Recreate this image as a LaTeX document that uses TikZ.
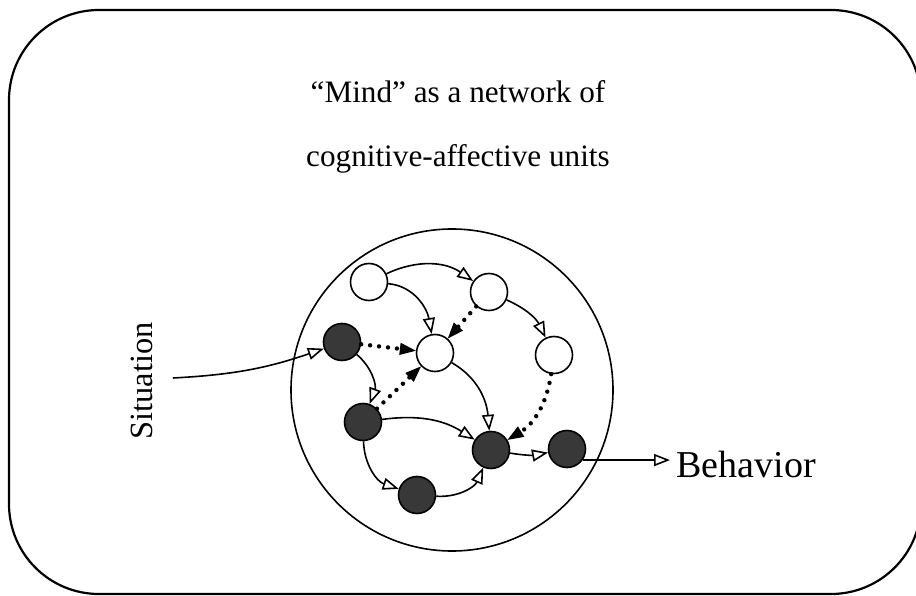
\documentclass[tikz,border=0pt]{standalone}
\usepackage{fontspec}
\setmainfont{Liberation Serif}
\usetikzlibrary{arrows.meta}

\begin{document}
\begin{tikzpicture}[x=0.5pt, y=0.5pt,
    wu/.style={circle, draw, line width=0.8pt, minimum size=18.5pt, inner sep=0pt, fill=white},
    du/.style={wu, fill=black!78},
    ln/.style={line width=0.8pt, -{Triangle[open, length=8pt, width=6pt]}},
    dt/.style={line width=2.2pt, dash pattern=on 0pt off 4.5pt, line cap=round,
      -{Triangle[length=8pt, width=6pt, line width=0.6pt]}}]
  \useasboundingbox (0,0) rectangle (916,595);
  \draw[line width=1.1pt, rounded corners=45pt] (9,1) rectangle (921,585);
  \node[font=\fontsize{15.6}{32}\selectfont, align=center] (title) at (458,468)
    {“Mind” as a network of\\cognitive-affective units};
  \node[circle, draw, line width=0.8pt, minimum size=161pt, inner sep=0pt] (mind) at (452,205) {};

  \node[wu] (w1) at (369,313) {};
  \node[wu] (w2) at (489,303) {};
  \node[wu] (w3) at (435,242) {};
  \node[wu] (w4) at (554,240) {};
  \node[du] (d1) at (342,253) {};
  \node[du] (d2) at (363,173) {};
  \node[du] (d3) at (491,145) {};
  \node[du] (d4) at (567,146) {};
  \node[du] (d5) at (417,100) {};

  \node[rotate=90, font=\fontsize{16.2}{19}\selectfont] (sitl) at (142,214) {Situation};
  \coordinate (sit) at (173,217);
  \node[anchor=west, inner sep=3pt, font=\fontsize{19}{23}\selectfont] (beh) at (670,130) {Behavior};

  \draw[ln] (w1) to[bend left=30] (w2);
  \draw[ln] (w1) to[out=-5, in=100] (w3);
  \draw[ln] (w2) to[bend left=20] (w4);
  \draw[dt] (w2) -- (w3);
  \draw[dt] (d1) -- (w3);
  \draw[ln] (d1) to[bend left=35] (d2);
  \draw[dt] (d2) -- (w3);
  \draw[ln] (w3) to[out=-30, in=95] (d3);
  \draw[dt] (w4) to[bend left=25] (d3);
  \draw[ln] (d2) to[bend left=20] (d3);
  \draw[ln] (d2) to[bend right=35] (d5);
  \draw[ln] (d5) to[bend right=35] (d3);
  \draw[ln] (d3) to[bend right=10] (d4);
  \draw[ln] (sit) to[bend right=8] (d1);
  \draw[ln] (d4.-35) -- (d4.-35 -| beh.west);
\end{tikzpicture}
\end{document}
